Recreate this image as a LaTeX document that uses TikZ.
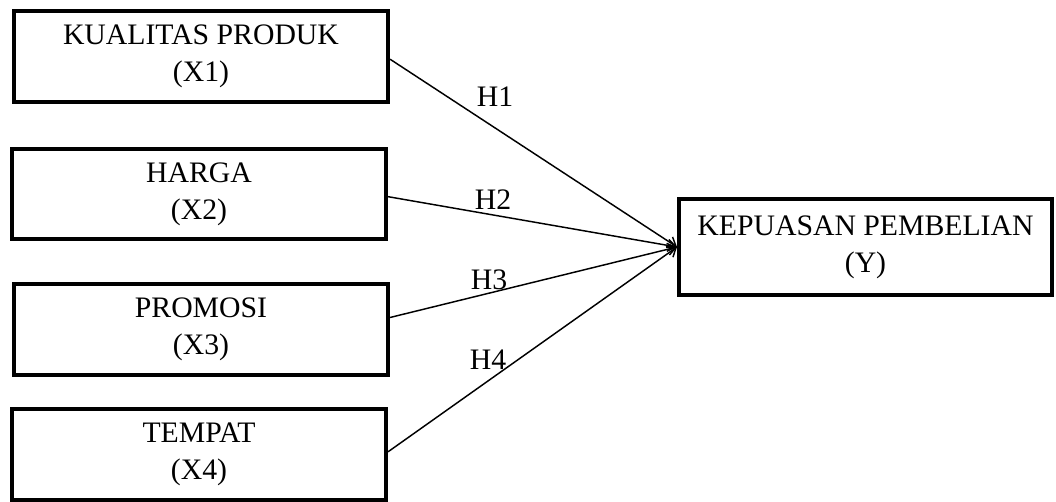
\documentclass[tikz,border=0pt]{standalone}
\usepackage{fontspec}
\setmainfont{Liberation Serif}
\usetikzlibrary{arrows.meta,positioning}

\begin{document}
\begin{tikzpicture}[x=0.75pt, y=-0.75pt, >={Straight Barb[length=6pt,width=9pt]},
    varbox/.style={draw, line width=3pt, minimum width=280.5pt, minimum height=68pt,
      align=center, inner sep=0pt, font=\fontsize{22.3}{27.5}\selectfont},
    hlabel/.style={inner sep=0pt, font=\fontsize{22.3}{25}\selectfont},
    effect/.style={->, line width=1.1pt}]
    \useasboundingbox (0,0) rectangle (1056,502);

    % Independent variables
    \node[varbox] (x1) at (201,56.5) {KUALITAS PRODUK\\(X1)};
    \node[varbox] (x2) at (199,194) {HARGA\\(X2)};
    \node[varbox] (x3) at (201,329.5) {PROMOSI\\(X3)};
    \node[varbox] (x4) at (199,454.5) {TEMPAT\\(X4)};

    % Dependent variable
    \node[varbox, minimum width=279.75pt, minimum height=72pt] (y) at (865.5,247) {KEPUASAN PEMBELIAN\\(Y)};

    % Hypotheses
    \draw[effect] ([yshift=-2pt]x1.east) -- (y.west);
    \draw[effect] ([yshift=-2pt]x2.east) -- (y.west);
    \draw[effect] ([yshift=9pt]x3.east) -- (y.west);
    \draw[effect] ([yshift=2pt]x4.east) -- (y.west);

    \node[hlabel] (h1) at (495,97) {H1};
    \node[hlabel] (h2) at (493,200) {H2};
    \node[hlabel] (h3) at (489,280) {H3};
    \node[hlabel] (h4) at (488,360) {H4};
\end{tikzpicture}
\end{document}
